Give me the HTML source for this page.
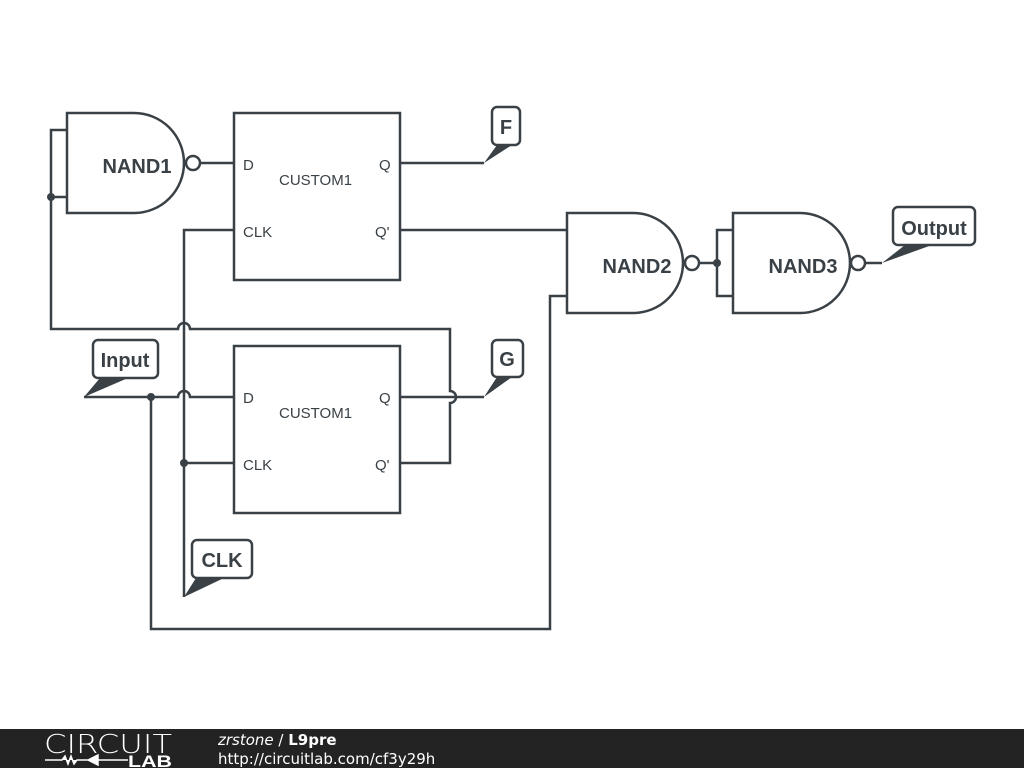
<!DOCTYPE html>
<html><head><style>
body{margin:0;width:1024px;height:768px;background:#fff;overflow:hidden;font-family:"Liberation Sans",sans-serif}
</style></head><body>
<svg width="1024" height="768" viewBox="0 0 1024 768" xmlns="http://www.w3.org/2000/svg" style="position:absolute;left:0;top:0">
<g fill="none" stroke="#3a4146" stroke-width="2.5" stroke-linejoin="miter">
<!-- NAND1 -->
<path d="M67,113 H134 A50,50 0 0 1 134,213 H67 Z"/>
<circle cx="193" cy="163" r="7"/>
<path d="M200,163 H234"/>
<path d="M67,130 H51 V197 H67"/>
<path d="M51,197 V329 H178 A6,6 0 0 1 190,329 H450 V391 A6,6 0 0 1 450,403 V463 H400"/>
<!-- FF1 -->
<rect x="234" y="113" width="166" height="167"/>
<path d="M400,163 H484"/>
<path d="M400,230 H567"/>
<!-- FF2 -->
<rect x="234" y="346" width="166" height="167"/>
<path d="M400,397 H484"/>
<!-- Input wire -->
<path d="M84,397 H178 A6,6 0 0 1 190,397 H234"/>
<path d="M151,397 V629 H550 V296 H567"/>
<!-- CLK wire -->
<path d="M234,230 H184 V597"/>
<path d="M184,463 H234"/>
<!-- NAND2 -->
<path d="M567,213 H633 A50,50 0 0 1 633,313 H567 Z"/>
<circle cx="692" cy="263" r="7"/>
<path d="M699,263 H717"/>
<path d="M733,230 H717 V296 H733"/>
<!-- NAND3 -->
<path d="M733,213 H800 A50,50 0 0 1 800,313 H733 Z"/>
<circle cx="858" cy="263" r="7"/>
<path d="M865,263 H882"/>
</g>
<g fill="#3a4146">
<circle cx="51" cy="197" r="4"/>
<circle cx="151" cy="397" r="4"/>
<circle cx="184" cy="463" r="4"/>
<circle cx="717" cy="263" r="4"/>
<polygon points="484,163 497,145 512,145"/>
<polygon points="484,397 497,377 512,377"/>
<polygon points="84,397 100,378 128,378"/>
<polygon points="184,597 196,578 224,578"/>
<polygon points="882,263 905,245 932,245"/>
</g>
<g fill="#fff" stroke="#3a4146" stroke-width="2.5">
<rect x="492" y="107" width="28" height="38" rx="5"/>
<rect x="492" y="340" width="31" height="37" rx="5"/>
<rect x="93" y="340" width="65" height="38" rx="5"/>
<rect x="192" y="540" width="60" height="38" rx="5"/>
<rect x="893" y="207" width="82" height="38" rx="5"/>
</g>
<g fill="#3a4146" font-weight="bold" font-size="20" text-anchor="middle">
<text x="506" y="134">F</text>
<text x="507" y="366">G</text>
<text x="125" y="367">Input</text>
<text x="222" y="567">CLK</text>
<text x="934" y="235">Output</text>
<text x="137" y="173">NAND1</text>
<text x="637" y="273">NAND2</text>
<text x="803" y="273">NAND3</text>
</g>
<g fill="#3a4146" font-size="15">
<text x="243" y="170">D</text>
<text x="243" y="237">CLK</text>
<text x="379" y="170">Q</text>
<text x="375" y="237">Q'</text>
<text x="279" y="185">CUSTOM1</text>
<text x="243" y="403">D</text>
<text x="243" y="470">CLK</text>
<text x="379" y="403">Q</text>
<text x="375" y="470">Q'</text>
<text x="279" y="418">CUSTOM1</text>
</g>
<rect x="0" y="729" width="1024" height="39" fill="#232323"/>
<text x="44" y="753" fill="#fff" font-size="26" textLength="128" lengthAdjust="spacingAndGlyphs" style="font-family:'DejaVu Sans',sans-serif;font-weight:200">CIRCUIT</text>
<path d="M45,760 H62 l3,-4 3,8 3,-8 3,8 3,-4 H88 M88,760 L98,755 V765 Z M98,755 V765 M98,760 H128" stroke="#fff" stroke-width="1.5" fill="#fff"/>
<text x="128" y="767" fill="#fff" font-size="17" font-weight="bold" textLength="44" lengthAdjust="spacingAndGlyphs">LAB</text>
<text x="218" y="745" fill="#fff" font-size="15" style="font-family:'DejaVu Sans',sans-serif"><tspan font-style="italic">zrstone</tspan> / <tspan font-weight="bold">L9pre</tspan></text>
<text x="218" y="764" fill="#fff" font-size="15" style="font-family:'DejaVu Sans',sans-serif">http://circuitlab.com/cf3y29h</text>
</svg>
</body></html>
